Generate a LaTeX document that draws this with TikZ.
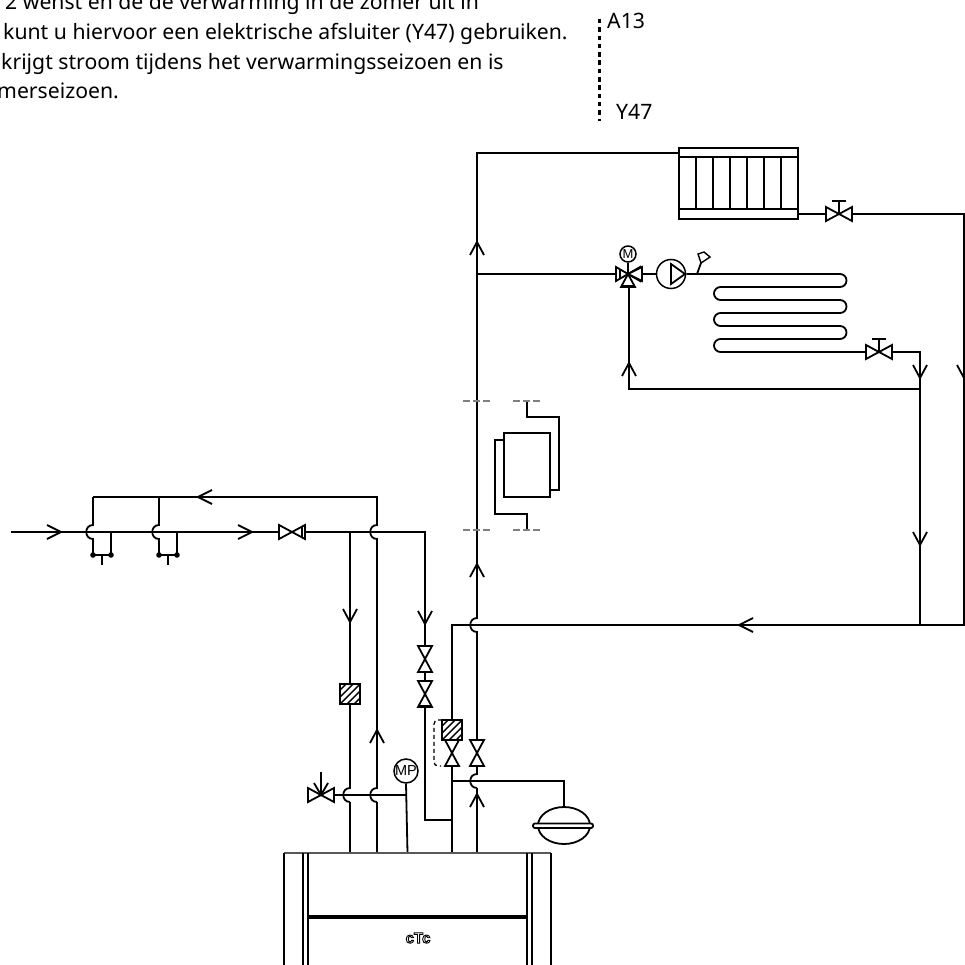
\documentclass[tikz,border=0pt]{standalone}
\usepackage{fontspec}
\setmainfont{Noto Sans}
\newfontfamily\symfont{Liberation Sans}
\usetikzlibrary{calc,shapes.geometric}

\tikzset{
	pipe/.style={line width=1.8pt},
	thickpipe/.style={line width=2.3pt},
	hop/.style={to path={.. controls ($(\tikztostart)+(-9,0)$) and ($(\tikztotarget)+(-9,0)$) .. (\tikztotarget)}},
	ghost/.style={gray, line width=1.3pt, dash pattern=on 7pt off 3pt},
	txt/.style={anchor=base west, inner sep=0pt, font=\fontsize{21.2}{21}\selectfont},
	dial/.style={draw, circle, fill=white, line width=1.5pt, inner sep=0pt, font=\symfont},
	veeup/.pic={\draw[pipe] (-7,13) -- (0,0) -- (7,13);},
	veedown/.pic={\draw[pipe] (-7,-13) -- (0,0) -- (7,-13);},
	veeright/.pic={\draw[pipe] (-14,-7) -- (0,0) -- (-14,7);},
	veeleft/.pic={\draw[pipe] (14,-7) -- (0,0) -- (14,7);},
	valveh/.pic={\draw[pipe, fill=white] (-13,-7) -- (13,7) -- (13,-7) -- (-13,7) -- cycle;},
	valvev/.pic={\draw[pipe, fill=white] (-7,-13) -- (7,13) -- (-7,13) -- (7,-13) -- cycle;},
	valvetee/.pic={
		\draw[pipe, fill=white] (-13,-7) -- (13,7) -- (13,-7) -- (-13,7) -- cycle;
		\draw[pipe] (0,0) -- (0,-13) (-7,-13) -- (7,-13);
	},
	filterbox/.pic={
		\draw[pipe, fill=white] (-10,-10) rectangle (10,10);
		\clip (-10,-10) rectangle (10,10);
		\foreach \c in {-14,-7,0,7,14}
			\draw[line width=1.4pt] (\c-12,12) -- (\c+12,-12);
	}
}

\begin{document}
\begin{tikzpicture}[x=1pt,y=-1pt]
	\useasboundingbox (0,0) rectangle (965,965);
	\clip (0,0) rectangle (965,965);

	% text
	\node[txt] (line1) at (5,10) {2 wenst en de de verwarming in de zomer uit in};
	\node[txt] (line2) at (3,40) {kunt u hiervoor een elektrische afsluiter (Y47) gebruiken.};
	\node[txt] (line3) at (1,69.5) {krijgt stroom tijdens het verwarmingsseizoen en is};
	\node[txt] (line4) at (-3,99) {merseizoen.};
	\node[txt] (a13) at (607,28.5) {A13};
	\node[txt] (y47) at (616,120) {Y47};
	\coordinate (wireTop) at (599,19);
	\coordinate (wireEnd) at (599,121);
	\draw[line width=3pt, dash pattern=on 4.5pt off 3.8pt] (wireTop) -- (wireEnd);

	% components
	\node[draw, pipe, minimum width=119pt, minimum height=71pt, inner sep=0pt] (radiator) at (738.5,183.5) {};
	\node[dial, minimum size=29pt] (pump) at (671,274) {};
	\node[dial, minimum size=16pt, font=\symfont\fontsize{13}{13}\selectfont] (motor) at (628,254) {M};
	\node[dial, minimum size=24pt, font=\symfont\fontsize{14.5}{14.5}\selectfont] (gauge) at (406,771) {MP};
	\node[draw, pipe, minimum width=46pt, minimum height=64pt, inner sep=0pt] (tank) at (527,465) {};

	\coordinate (riserTop) at (477,153);
	\coordinate (riserTap) at (477,274);
	\coordinate (floorDrop) at (920,352);
	\coordinate (floorBack) at (920,389);
	\coordinate (mainBack) at (920,625);
	\coordinate (wallEnd) at (964,625);
	\coordinate (mixLeg) at (628,274);

	% radiator circuit
	\draw[pipe] (radiator.west |- riserTop) -- (riserTop) -- (477,618) to[hop] (477,632) -- (477,774) to[hop] (477,788);
	\draw[thickpipe] (477,788) -- (477,853);
	\draw[pipe] (radiator.east |- 0,214) -- (964,214) -- (wallEnd) -- (452,625) -- (452,853);
	\foreach \y in {157,209}
		\draw[pipe] (radiator.west |- 0,\y) -- (radiator.east |- 0,\y);
	\foreach \x in {696,713,730,747,764,781}
		\draw[pipe] (\x,157) -- (\x,209);
	\pic at (839,214) {valvetee};
	\pic at (477,242) {veeup};
	\pic at (477,564) {veeup};

	% floor circuit
	\draw[pipe] (riserTap) -- (mixLeg);
	\draw[pipe] (mixLeg) -- (pump.west);
	\draw[pipe] (motor) -- (mixLeg);
	\draw[pipe, rounded corners=6.5pt] (pump.east) -- (846.5,274) -- (846.5,287) -- (714,287) -- (714,300) -- (846.5,300) -- (846.5,313) -- (714,313) -- (714,326) -- (846.5,326) -- (846.5,339) -- (714,339) -- (714,352) -- (840,352);
	\draw[pipe] (840,352) -- (floorDrop) -- (mainBack);
	\draw[pipe] (floorBack) -- (629,389) -- (629,287);
	\draw[pipe] (697,274) -- (701,263);
	\draw[line width=1.4pt] (701,263) -- (698,254) -- (704,252) -- (710,257) -- cycle;
	\draw[pipe] (671,264) -- (671,284) -- (685,274) -- cycle;
	\pic at (629,363) {veeup};
	\pic at (879,352) {valvetee};
	\pic at (920,378) {veedown};
	\pic at (920,545) {veedown};
	\pic at (964,378) {veedown};
	\pic at (739,625) {veeleft};
	\draw[pipe, fill=white] (616,267) -- (640,281) -- (640,267) -- (616,281) -- cycle;
	\draw[pipe, fill=white] (628,274) -- (642,267) -- (642,281) -- cycle;
	\draw[pipe, fill=white] (628,274) -- (621,287) -- (635,287) -- cycle;
	\draw[pipe] (616,267) -- (616,281) (620,269) -- (620,279);
	\draw[thickpipe] (621,286) -- (635,286);

	% tank
	\draw[pipe] (527,401) -- (527,417) -- (559,417) -- (559,490) -- (tank.east |- 0,490);
	\draw[pipe] (tank.west |- 0,440) -- (495,440) -- (495,514) -- (527,514) -- (527,530);
	\foreach \y in {401,530} {
		\draw[ghost] (463,\y) -- (490,\y);
		\draw[ghost] (513,\y) -- (541,\y);
	}

	% supply lines
	\draw[pipe] (11,532) -- (425,532) -- (425,820) -- (452,820);
	\draw[pipe] (93,497) -- (377,497) -- (377,525) to[hop] (377,539) -- (377,788) to[hop] (377,802);
	\draw[thickpipe] (377,802) -- (377,853);
	\draw[pipe] (93,497) -- (93,525) to[hop] (93,539) -- (93,555) -- (111,555) -- (111,532);
	\draw[pipe] (159,497) -- (159,525) to[hop] (159,539) -- (159,555) -- (177,555) -- (177,532);
	\draw[pipe] (102,555) -- (102,565) (168,555) -- (168,565);
	\foreach \x in {93,111,159,177}
		\fill (\x,555) circle (2.8);
	\draw[pipe] (350,532) -- (350,788) to[hop] (350,802);
	\draw[thickpipe] (350,802) -- (350,853);
	\pic at (61,532) {veeright};
	\pic at (252,532) {veeright};
	\pic at (198,497) {veeleft};
	\pic at (292,532) {valveh};
	\draw[pipe] (302,526) -- (302,538);
	\pic at (350,622) {veedown};
	\pic at (425,624) {veedown};
	\pic at (377,730) {veeup};
	\pic at (477,794) {veeup};
	\pic at (350,694) {filterbox};

	% boiler connections
	\draw[pipe] (334,795) -- (gauge.south |- 0,795);
	\draw[pipe] (gauge.south) -- (407.5,853);
	\pic at (321,795) {valveh};
	\draw[pipe] (321,772) -- (321,795) (314,783) -- (321,795) -- (328,783);
	\pic at (425,659) {valvev};
	\pic at (425,694) {valvev};
	\draw[thickpipe] (418,706) -- (432,706);
	\pic at (452,753) {valvev};
	\pic at (452,730) {filterbox};
	\pic at (477,753) {valvev};
	\draw[line width=1.3pt, dash pattern=on 4pt off 3pt, rounded corners=4pt] (442,720) -- (434,720) -- (434,766) -- (441,766);

	% expansion vessel
	\draw[pipe] (451,781) -- (564,781) -- (564,807);
	\node[draw, pipe, ellipse, minimum width=52pt, minimum height=37pt, inner sep=0pt] (vessel) at (564,825.5) {};
	\draw[pipe, fill=white, rounded corners=2pt] (533,823.5) rectangle (593,828);

	% boiler
	\draw[line width=1.3pt, gray!70!black] (284,853) -- (551,853);
	\foreach \x in {284,308,527}
		\draw[thickpipe] (\x,853) -- (\x,965);
	\foreach \x in {303,532,551}
		\draw[line width=1.3pt] (\x,853) -- (\x,965);
	\draw[line width=4.5pt] (308,917) -- (527,917);
	\node[inner sep=0pt, font=\symfont\bfseries\fontsize{15}{15}\selectfont] (logo) at (418,938) {\special{pdf:code 1 Tr 0.9 w}cTc\special{pdf:code 0 Tr}};
\end{tikzpicture}
\end{document}
